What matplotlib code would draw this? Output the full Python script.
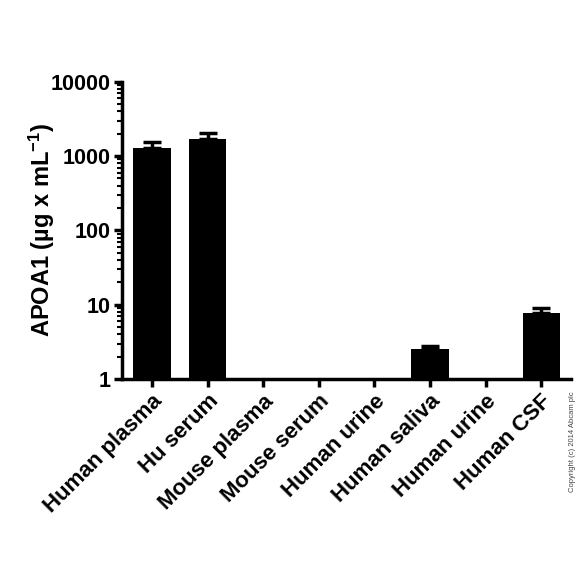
import numpy as np
import matplotlib.pyplot as plt

# 样本类别与测量值（读自原图，对数坐标）
samples = ['Human plasma', 'Hu serum', 'Mouse plasma', 'Mouse serum',
           'Human urine', 'Human saliva', 'Human urine', 'Human CSF']
apoa1 = [1280, 1710, np.nan, np.nan, np.nan, 2.5, np.nan, 7.8]
apoa1_err = [260, 330, 0, 0, 0, 0.3, 0, 1.3]

plt.rcParams['font.family'] = ['Liberation Sans', 'DejaVu Sans']
plt.rcParams['font.weight'] = 'bold'
plt.rcParams['mathtext.fontset'] = 'custom'
plt.rcParams['mathtext.rm'] = 'Liberation Sans:bold'
plt.rcParams['mathtext.bf'] = 'Liberation Sans:bold'
plt.rcParams['mathtext.default'] = 'bf'

fig = plt.figure(figsize=(5.84, 5.84), dpi=100)
ax = fig.add_axes([0.209, 0.351, 0.769, 0.509])

x = np.arange(len(samples))
vals = np.array(apoa1)
errs = np.array(apoa1_err)
mask = ~np.isnan(vals)

ax.bar(x[mask], vals[mask], width=0.67, color='black')
ax.errorbar(x[mask], vals[mask], yerr=[np.zeros(mask.sum()), errs[mask]],
            fmt='none', ecolor='black', elinewidth=2.5, capsize=6.5, capthick=2.5)

ax.set_yscale('log')
ax.set_ylim(1, 10000)
ax.set_xlim(-0.54, len(samples) - 0.46)
ax.set_yticks([1, 10, 100, 1000, 10000])
ax.set_yticklabels(['1', '10', '100', '1000', '10000'])
ax.set_xticks(x)
ax.set_xticklabels(samples, rotation=45, ha='right', rotation_mode='anchor')

for s in ['top', 'right']:
    ax.spines[s].set_visible(False)
for s in ['left', 'bottom']:
    ax.spines[s].set_linewidth(2.5)

ax.tick_params(axis='both', which='major', length=5.5, width=2.5)
ax.tick_params(axis='y', which='major', labelsize=15.5, pad=2.5)
ax.tick_params(axis='x', which='major', labelsize=16, pad=3)
ax.tick_params(axis='y', which='minor', length=3.5, width=1.5)
for lab in ax.get_xticklabels() + ax.get_yticklabels():
    lab.set_fontweight('bold')

ax.set_ylabel('APOA1 (\u00b5g x mL$^{-1}$)', fontsize=17, fontweight='bold')
ax.yaxis.set_label_coords(-0.145, 0.5)

fig.text(0.981, 0.33, 'Copyright (c) 2014 Abcam plc', rotation=90,
         fontsize=5.5, fontweight='normal', ha='center', va='top', color='#444444')

plt.savefig('out.png', dpi=100)
